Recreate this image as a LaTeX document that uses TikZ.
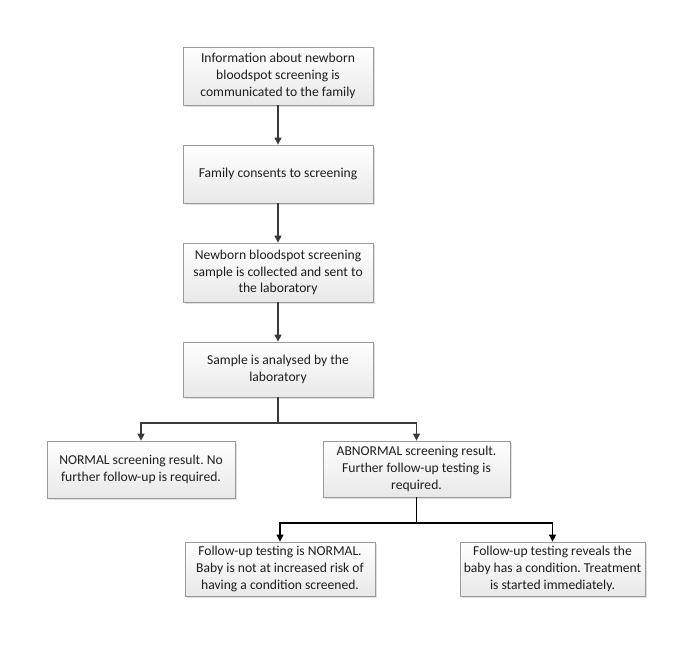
\documentclass[tikz,border=0pt]{standalone}
\usepackage{fontspec}
\setmainfont{Carlito}
\frenchspacing
\usetikzlibrary{arrows.meta,shadows}
\definecolor{boxline}{HTML}{9A9A9A}
\definecolor{arrowc}{HTML}{3A3A3A}
\definecolor{txt}{HTML}{1E1E1E}
\begin{document}
\begin{tikzpicture}[x=1pt,y=-1pt,
  flowbox/.style={draw=boxline, line width=0.8pt, top color=white, bottom color=black!9,
    drop shadow={shadow xshift=1.5pt, shadow yshift=-1.5pt, opacity=0.25},
    align=center, text=txt, font=\fontsize{13.6}{16.8}\selectfont\frenchspacing, inner sep=0pt},
  conn/.style={draw=arrowc, line width=1.1pt, -{Triangle[width=7pt,length=7pt]}},
  plain/.style={draw=arrowc, line width=1.1pt}]
\useasboundingbox[fill=white] (0,0) rectangle (700,650);
\node[flowbox, minimum width=190pt, minimum height=58pt] (b1) at (278,76)
  {Information about newborn\\bloodspot screening is\\communicated to the family};
\node[flowbox, minimum width=190pt, minimum height=58pt] (b2) at (278,174)
  {Family consents to screening};
\node[flowbox, minimum width=190pt, minimum height=59pt] (b3) at (278,272.5)
  {Newborn bloodspot screening\\sample is collected and sent to\\the laboratory};
\node[flowbox, minimum width=190pt, minimum height=55pt] (b4) at (278,369.5)
  {Sample is analysed by the\\laboratory};
\node[flowbox, minimum width=188pt, minimum height=57pt] (n1) at (141,469.5)
  {NORMAL screening result. No\\further follow-up is required.};
\node[flowbox, minimum width=187pt, minimum height=56pt] (a1) at (416.5,469)
  {ABNORMAL screening result.\\Further follow-up testing is\\required.};
\node[flowbox, minimum width=190pt, minimum height=54pt] (f1) at (280,569)
  {Follow-up testing is NORMAL.\\Baby is not at increased risk of\\having a condition screened.};
\node[flowbox, minimum width=185pt, minimum height=54pt] (f2) at (552.5,569)
  {Follow-up testing reveals the\\baby has a condition. Treatment\\is started immediately.};
\coordinate (s1) at (278,423);
\coordinate (s2) at (416.5,523);
\draw[conn] (b1) -- (b2);
\draw[conn] (b2) -- (b3);
\draw[conn] (b3) -- (b4);
\draw[plain] (b4) -- (s1);
\draw[conn] (s1) -| (n1);
\draw[conn] (s1) -| (a1);
\draw[plain, draw=black] (a1) -- (s2);
\draw[conn, draw=black] (s2) -| (f1);
\draw[conn, draw=black] (s2) -| (f2);
\end{tikzpicture}
\end{document}
